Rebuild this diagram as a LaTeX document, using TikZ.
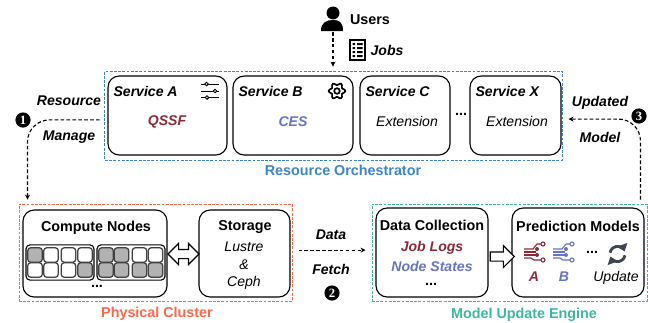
\documentclass[tikz,border=0pt]{standalone}
\usepackage{fontspec}
\setmainfont{Liberation Sans}
\newfontfamily\numfont{Liberation Serif}
\usetikzlibrary{arrows.meta,shapes.arrows}

\definecolor{orchblue}{HTML}{3D85C6}
\definecolor{clusterred}{HTML}{F8694A}
\definecolor{engineteal}{HTML}{3DB8A0}
\definecolor{modelred}{HTML}{8C2A3A}
\definecolor{modelblue}{HTML}{6674C4}
\definecolor{cellgray}{HTML}{B2B2B2}
\definecolor{iconslate}{HTML}{3C4652}

\newcommand{\branchicon}[2]{%
  \begin{scope}[shift={(#1)},draw=#2,line width=.8pt]
    \draw (0,8) -- (9,8) -- (13,3) -- (17,3);
    \draw (0,11) -- (12,11);
    \draw (0,14) -- (13,14);
    \draw (0,17) -- (7,17) -- (10,19) -- (17,19);
    \draw (19,3) circle (2);
    \draw (19,19) circle (2);
    \fill[#2] (13,8) circle (2);
    \fill[#2] (13,14) circle (2);
  \end{scope}}

\begin{document}
\begin{tikzpicture}[x=.025cm,y=-.025cm,
  thick,
  txt/.style={font=\fontsize{10}{12}\selectfont},
  head node/.style={txt,font=\fontsize{10.2}{12}\selectfont\bfseries},
  tag node/.style={txt,font=\fontsize{10}{12}\selectfont\bfseries\itshape},
  ital node/.style={txt,font=\fontsize{10}{12}\selectfont\itshape},
  group node/.style={draw,line width=.65pt,dash pattern=on 2pt off 1pt},
  card node/.style={draw,rounded corners=2.8mm},
  rack node/.style={draw,rounded corners=1mm,minimum width=17mm,minimum height=8.8mm},
  free/.style={draw=black!75,line width=.9pt,fill=white,rounded corners=.7mm,minimum size=3.6mm,inner sep=0},
  busy/.style={free,fill=cellgray},
  step node/.style={circle,fill=black,text=white,inner sep=0,minimum size=3.8mm,font=\numfont\bfseries\small},
  flow/.style={line width=.8pt,dash pattern=on 2.6pt off 1.6pt,-{Stealth[length=3.5pt,width=3.5pt]}},
  hollow/.style={draw,fill=white,line width=.8pt,inner xsep=0,inner ysep=1mm}]

  \useasboundingbox (0,0) rectangle (648,322);

  % groups
  \node[group node,draw=orchblue,minimum width=114.25mm,minimum height=22.25mm] (orch) at (333.5,115.5) {};
  \node[group node,draw=clusterred,minimum width=68.25mm,minimum height=24.25mm] (cluster) at (155.5,252.5) {};
  \node[group node,draw=engineteal,minimum width=68.75mm,minimum height=24.25mm] (engine) at (509.5,252.5) {};

  % services
  \node[card node,minimum width=29.75mm,minimum height=19.75mm] (svca) at (167.5,115.5) {};
  \node[card node,minimum width=30mm,minimum height=19.75mm] (svcb) at (293,115.5) {};
  \node[card node,minimum width=22.5mm,minimum height=19.75mm] (svcc) at (405,115.5) {};
  \node[card node,minimum width=22.75mm,minimum height=19.75mm] (svcx) at (515.5,115.5) {};

  \node[tag node,anchor=west,inner sep=0] (namea) at (113,91) {Service A};
  \node[tag node,anchor=west,inner sep=0] (nameb) at (238,91) {Service B};
  \node[tag node,anchor=west,inner sep=0] (namec) at (365,91) {Service C};
  \node[tag node,anchor=west,inner sep=0] (namex) at (475,91) {Service X};

  \node[tag node,text=modelred] (qssf) at (167,122) {QSSF};
  \node[tag node,text=modelblue] (ces) at (293,122) {CES};
  \node[ital node] (extc) at (407,121) {Extension};
  \node[ital node] (extx) at (517,121) {Extension};
  \node[head node] (svcdots) at (461,114) {...};

  % sliders
  \draw[line width=.7pt] (201,84) -- (219,84) (201,91) -- (219,91) (201,97.5) -- (219,97.5);
  \draw[line width=.7pt,fill=white] (206.5,84) circle (1.8) (215,91) circle (1.8) (207,97.5) circle (1.8);

  % gear
  \draw[line width=1.2pt,fill=white] plot[smooth cycle,domain=0:350,samples=36]
    ({337+(7+1.3*cos(6*\x))*cos(\x)},{91+(7+1.3*cos(6*\x))*sin(\x)});
  \draw[line width=1.2pt] (337,91) circle (2.8);

  % users
  \coordinate (person) at (333,32);
  \fill (333,13) circle (6.5);
  \fill (321,31) .. controls (321,22) and (327,20) .. (333,20) .. controls (339,20) and (343,22) .. (343,31) -- cycle;
  \node[head node] (users) at (370,20) {Users};

  % jobs
  \draw[line width=1.1pt,fill=white] (350,40) rectangle (365,60);
  \fill (352.5,43) rectangle (355,45) (352.5,47) rectangle (355,49) (352.5,51) rectangle (355,53) (352.5,55) rectangle (355,57);
  \fill (357,43) rectangle (362.5,45) (357,47) rectangle (362.5,49) (357,51) rectangle (362.5,53) (357,55) rectangle (362.5,57);
  \node[tag node] (jobs) at (387,50) {Jobs};

  % cluster
  \node[card node,minimum width=36mm,minimum height=21.75mm] (compute) at (95,253.5) {};
  \node[card node,minimum width=22.75mm,minimum height=21.75mm] (storage) at (244.5,253.5) {};
  \node[head node] (computename) at (96,227.5) {Compute Nodes};
  \node[head node] (storagename) at (245,227.5) {Storage};
  \node[ital node] (lustre) at (244,247) {Lustre};
  \node[ital node] (amp) at (244,265) {\&};
  \node[ital node] (ceph) at (244,283) {Ceph};
  \node[head node] (computedots) at (97,286) {...};

  \node[rack node] (rack1) at (60,262.5) {};
  \node[rack node] (rack2) at (131,262.5) {};

  \node[busy] (a1) at (35,255) {};
  \node[free] (a2) at (51,255) {};
  \node[free] (a3) at (68.5,255) {};
  \node[free] (a4) at (85,255) {};
  \node[free] (a5) at (35,270) {};
  \node[free] (a6) at (51,270) {};
  \node[free] (a7) at (68.5,270) {};
  \node[busy] (a8) at (85,270) {};

  \node[busy] (b1) at (106,255) {};
  \node[busy] (b2) at (121.5,255) {};
  \node[free] (b3) at (139.5,255) {};
  \node[free] (b4) at (155.5,255) {};
  \node[busy] (b5) at (106,270) {};
  \node[busy] (b6) at (121.5,270) {};
  \node[busy] (b7) at (139.5,270) {};
  \node[busy] (b8) at (155.5,270) {};

  \node[hollow,double arrow,minimum height=7.75mm,
    double arrow head extend=1.5mm,double arrow head indent=0mm] (link) at (183.5,254) {};

  % engine
  \node[card node,minimum width=28mm,minimum height=22.25mm] (collect) at (432,252.5) {};
  \node[card node,minimum width=33mm,minimum height=22.25mm] (predict) at (578,252.5) {};
  \node[head node] (collectname) at (432,225) {Data Collection};
  \node[head node] (predictname) at (578,226) {Prediction Models};
  \node[tag node,text=modelred] (joblogs) at (432,248) {Job Logs};
  \node[tag node,text=modelblue] (nodestates) at (432,266) {Node States};
  \node[head node] (collectdots) at (431,284) {...};
  \node[hollow,single arrow,minimum height=6mm,
    single arrow head extend=1.6mm,single arrow head indent=0mm] (feed) at (500,256.5) {};

  \branchicon{524,241}{modelred}
  \branchicon{553,241}{modelblue}
  \node[head node] (predictdots) at (592,252) {...};

  % update
  \draw[iconslate,line width=2pt,-{Triangle[length=5pt,width=7.5pt]}] (610,252.7) arc[start angle=190,end angle=340,radius=7.6];
  \draw[iconslate,line width=2pt,-{Triangle[length=5pt,width=7.5pt]}] (625,255.3) arc[start angle=10,end angle=160,radius=7.6];

  \node[tag node,text=modelred] (leta) at (534,277) {A};
  \node[tag node,text=modelblue] (letb) at (564,277) {B};
  \node[ital node] (update) at (616,278) {Update};

  % group names
  \node[head node,text=orchblue] (orchname) at (343,170) {Resource Orchestrator};
  \node[head node,text=clusterred] (clustername) at (157,314) {Physical Cluster};
  \node[head node,text=engineteal] (enginename) at (524,315) {Model Update Engine};

  % flows
  \draw[flow,shorten >=1mm] (person) -- (orch.north -| person);
  \draw[flow,rounded corners=5.5mm,shorten <=1.2mm,shorten >=1mm] ([yshift=-.11cm]orch.west) -| ([xshift=.225cm]cluster.north west);
  \draw[flow,rounded corners=5.5mm,shorten <=1mm,shorten >=1.5mm] ([xshift=-.175cm]engine.north east) |- ([yshift=-.09cm]orch.east);
  \draw[flow,shorten <=1.5mm,shorten >=1.5mm] ([yshift=.06cm]cluster.east) -- ([yshift=.06cm]engine.west);

  \node[tag node] (resource) at (69,101) {Resource};
  \node[tag node] (manage) at (69,137) {Manage};
  \node[tag node] (updated) at (600,103) {Updated};
  \node[tag node] (model) at (600,137) {Model};
  \node[tag node] (data) at (331,235) {Data};
  \node[tag node] (fetch) at (331,269) {Fetch};

  \node[step node] (one) at (23,120) {1};
  \node[step node] (two) at (332,293) {2};
  \node[step node] (three) at (639,116) {3};
\end{tikzpicture}
\end{document}
